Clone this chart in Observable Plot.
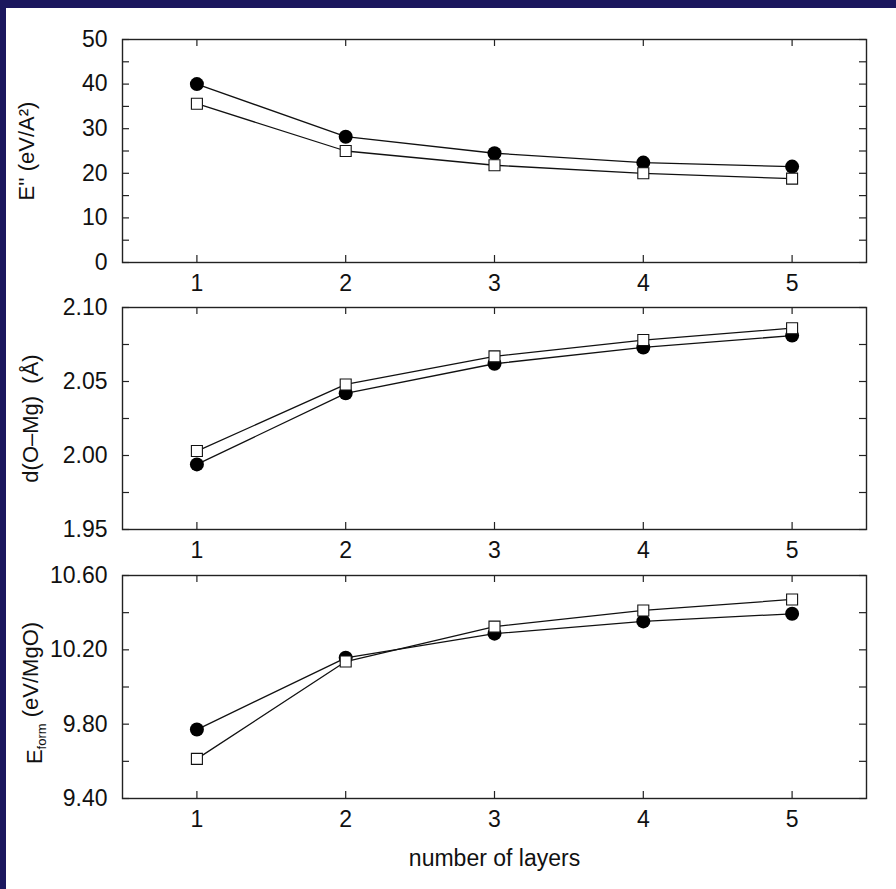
<!DOCTYPE html>
<html>
<head>
<meta charset="utf-8">
<script src="https://cdn.jsdelivr.net/npm/d3@7"></script>
<script src="https://cdn.jsdelivr.net/npm/@observablehq/plot@0.6"></script>
<style>
  html, body { margin: 0; padding: 0; }
  body { width: 896px; height: 889px; background: #1b175e; position: relative; overflow: hidden; }
  #page { position: absolute; left: 6px; top: 8px; right: 0; bottom: 0; background: #ffffff; }
  .panel { position: absolute; left: 0; top: 0; }
</style>
</head>
<body>
<div id="page"></div>
<script>
// ---- data ----
const layers = [1, 2, 3, 4, 5];

const eTicksAll = [0, 5, 10, 15, 20, 25, 30, 35, 40, 45, 50];
const eTicksMajor = [0, 10, 20, 30, 40, 50];
const eCircles = [40.0, 28.2, 24.5, 22.4, 21.5];
const eSquares = [35.6, 25.0, 21.8, 20.0, 18.8];

const dTicksAll = [1.95, 1.975, 2.0, 2.025, 2.05, 2.075, 2.1];
const dTicksMajor = [1.95, 2.0, 2.05, 2.1];
const dCircles = [1.994, 2.042, 2.062, 2.073, 2.081];
const dSquares = [2.003, 2.048, 2.067, 2.078, 2.086];

const fTicksAll = [9.4, 9.6, 9.8, 10.0, 10.2, 10.4, 10.6];
const fTicksMajor = [9.4, 9.8, 10.2, 10.6];
const fCircles = [9.771, 10.157, 10.287, 10.353, 10.394];
const fSquares = [9.613, 10.137, 10.325, 10.412, 10.471];

const titles = ["E'' (eV/A²)", "d(O\u2013Mg)\u00a0\u00a0(Å)", "Eform (eV/MgO)"];
const xTitle = "number of layers";

// ---- drawing ----
const FONT = "'Liberation Sans', Arial, sans-serif";
const W = 896, ML = 122, MR = 30, MT = 10, MB = 80;
const TICK_FS = 23, TITLE_FS = 22;

function panel({top, frameH, domain, all, major, fmt, circles, squares, title, tdx, tdy, xlabel}) {
  const frameW = W - ML - MR;
  const circ = layers.map((x, i) => ({x, y: circles[i]}));
  const sq = layers.map((x, i) => ({x, y: squares[i]}));
  const marks = [
    Plot.tickY(all, {y: d => d, insetRight: frameW - 7, stroke: "#222", strokeWidth: 1.2}),
    Plot.tickY(all, {y: d => d, insetLeft: frameW - 7, stroke: "#222", strokeWidth: 1.2}),
    Plot.tickX(layers, {x: d => d, insetTop: frameH - 7, stroke: "#222", strokeWidth: 1.2}),
    Plot.tickX(layers, {x: d => d, insetBottom: frameH - 7, stroke: "#222", strokeWidth: 1.2}),
    Plot.frame({stroke: "#222", strokeWidth: 1.4}),
    Plot.axisY(major, {tickSize: 0, tickPadding: 15, tickFormat: fmt, label: null, fontSize: TICK_FS, fill: "#111"}),
    Plot.axisX(layers, {tickSize: 0, tickPadding: 12, tickFormat: d => String(d), label: null, fontSize: TICK_FS, fill: "#111"}),
    Plot.line(circ, {x: "x", y: "y", stroke: "#111", strokeWidth: 1.3}),
    Plot.line(sq, {x: "x", y: "y", stroke: "#111", strokeWidth: 1.3}),
    Plot.dot(circ, {x: "x", y: "y", r: 7, fill: "#000", stroke: "none"}),
    Plot.dot(sq, {x: "x", y: "y", r: 6.2, symbol: "square", fill: "#fff", stroke: "#111", strokeWidth: 1.1}),
    Plot.text([title], {text: d => d, frameAnchor: "left", dx: tdx, dy: tdy, rotate: -90, textAnchor: "middle", lineAnchor: "middle", fontSize: TITLE_FS, fill: "#111"})
  ];
  if (xlabel) {
    marks.push(Plot.text([xlabel], {text: d => d, frameAnchor: "bottom", dy: 60, lineAnchor: "middle", textAnchor: "middle", fontSize: TICK_FS, fill: "#111"}));
  }
  const svg = Plot.plot({
    width: W,
    height: MT + frameH + MB,
    marginLeft: ML, marginRight: MR, marginTop: MT, marginBottom: MB,
    style: {fontFamily: FONT, fontSize: "22px", background: "transparent", color: "#111", overflow: "visible"},
    x: {domain: [0.5, 5.5]},
    y: {domain},
    marks
  });
  svg.classList.add("panel");
  svg.style.top = (top - MT) + "px";
  svg.style.left = "0px";
  document.body.appendChild(svg);
  return svg;
}

panel({top: 39, frameH: 223, domain: [0, 50], all: eTicksAll, major: eTicksMajor, fmt: d => d.toFixed(0),
       circles: eCircles, squares: eSquares, title: titles[0], tdx: -96, tdy: 0});
panel({top: 307, frameH: 222, domain: [1.95, 2.1], all: dTicksAll, major: dTicksMajor, fmt: d => d.toFixed(2),
       circles: dCircles, squares: dSquares, title: titles[1], tdx: -92, tdy: 0});
const p3 = panel({top: 575, frameH: 223, domain: [9.4, 10.6], all: fTicksAll, major: fTicksMajor, fmt: d => d.toFixed(2),
       circles: fCircles, squares: fSquares, title: titles[2], tdx: -88, tdy: 6, xlabel: xTitle});

// subscript "form" in E_form
d3.select(p3).selectAll("text").each(function() {
  if (this.textContent === titles[2]) {
    const t = d3.select(this);
    t.text(null);
    t.append("tspan").text("E");
    t.append("tspan").attr("font-size", "13px").attr("dy", "0.35em").text("form");
    t.append("tspan").attr("dy", "-0.35em").text(" (eV/MgO)");
  }
});
</script>
</body>
</html>
